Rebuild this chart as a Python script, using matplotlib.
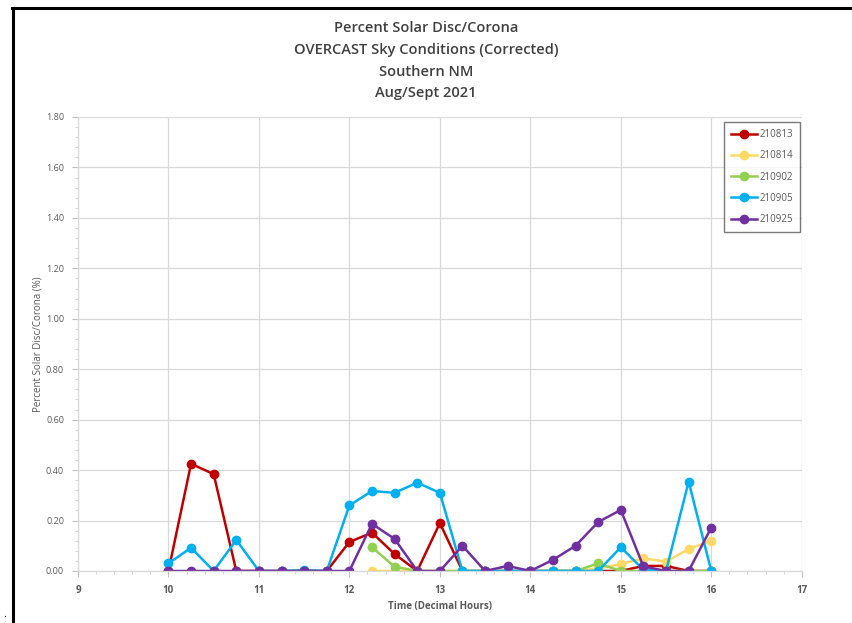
import matplotlib
matplotlib.use("Agg")
import matplotlib.pyplot as plt
from matplotlib.lines import Line2D
from matplotlib.ticker import MultipleLocator, FormatStrFormatter

# ---------------------------------------------------------------------------
# Measurements (decimal hours vs. percent of solar disc / corona)
# ---------------------------------------------------------------------------
hours_813 = [10.0, 10.25, 10.5, 10.75, 11.0, 11.25, 11.5, 11.75, 12.0, 12.25,
             12.5, 12.75, 13.0, 13.25, 13.5, 13.75, 14.0, 14.25, 14.5, 14.75,
             15.0, 15.25, 15.5, 15.75, 16.0]
pct_813 = [0.0, 0.425, 0.384, 0.0, 0.0, 0.0, 0.0, 0.0, 0.115, 0.152,
           0.067, 0.0, 0.19, 0.0, 0.0, 0.0, 0.0, 0.0, 0.0, 0.0,
           0.0, 0.02, 0.02, 0.0, 0.0]

hours_814 = [12.25, 12.5, 12.75, 13.0, 13.25, 13.5, 13.75, 14.0, 14.25, 14.5,
             14.75, 15.0, 15.25, 15.5, 15.75, 16.0]
pct_814 = [0.0, 0.0, 0.0, 0.0, 0.0, 0.0, 0.0, 0.0, 0.0, 0.0,
           0.01, 0.027, 0.05, 0.037, 0.087, 0.12]

hours_902 = [12.25, 12.5, 12.75, 13.0, 13.25, 13.5, 13.75, 14.0, 14.25, 14.5,
             14.75, 15.0, 15.25, 15.5, 15.75, 16.0]
pct_902 = [0.094, 0.017, 0.0, 0.0, 0.0, 0.0, 0.0, 0.0, 0.0, 0.0,
           0.03, 0.0, 0.0, 0.0, 0.0, 0.0]

hours_905 = [10.0, 10.25, 10.5, 10.75, 11.0, 11.25, 11.5, 11.75, 12.0, 12.25,
             12.5, 12.75, 13.0, 13.25, 13.5, 13.75, 14.0, 14.25, 14.5, 14.75,
             15.0, 15.25, 15.5, 15.75, 16.0]
pct_905 = [0.03, 0.092, 0.0, 0.123, 0.0, 0.0, 0.003, 0.0, 0.26, 0.317,
           0.31, 0.35, 0.31, 0.0, 0.0, 0.0, 0.0, 0.0, 0.0, 0.0,
           0.094, 0.005, 0.0, 0.354, 0.0]

hours_925 = [10.0, 10.25, 10.5, 10.75, 11.0, 11.25, 11.5, 11.75, 12.0, 12.25,
             12.5, 12.75, 13.0, 13.25, 13.5, 13.75, 14.0, 14.25, 14.5, 14.75,
             15.0, 15.25, 15.5, 15.75, 16.0]
pct_925 = [0.0, 0.0, 0.0, 0.0, 0.0, 0.0, 0.0, 0.0, 0.0, 0.187,
           0.127, 0.0, 0.0, 0.10, 0.0, 0.02, 0.0, 0.044, 0.10, 0.194,
           0.242, 0.018, 0.0, 0.0, 0.172]

series_labels = ["210813", "210814", "210902", "210905", "210925"]
series_colors = ["#C00000", "#FFD966", "#92D050", "#00B0F0", "#7030A0"]

title_lines = ["Percent Solar Disc/Corona",
               "OVERCAST Sky Conditions (Corrected)",
               "Southern NM",
               "Aug/Sept 2021"]

plt.rcParams["font.family"] = ["Open Sans", "DejaVu Sans"]

fig = plt.figure(figsize=(8.52, 6.23), dpi=100)
ax = fig.add_axes([0.0915, 0.0835, 0.8495, 0.7287])

data = [(hours_813, pct_813), (hours_814, pct_814), (hours_902, pct_902),
        (hours_905, pct_905), (hours_925, pct_925)]
for (xs, ys), lab, col in zip(data, series_labels, series_colors):
    ax.plot(xs, ys, color=col, linewidth=1.8, marker="o", markersize=6,
            label=lab)

ax.set_xlim(9, 17)
ax.set_ylim(0, 1.8)
ax.xaxis.set_major_locator(MultipleLocator(1))
ax.xaxis.set_minor_locator(MultipleLocator(0.2))
ax.yaxis.set_major_locator(MultipleLocator(0.2))
ax.yaxis.set_minor_locator(MultipleLocator(0.04))
ax.yaxis.set_major_formatter(FormatStrFormatter("%.2f"))
ax.grid(True, which="major", color="#d9d9d9", linewidth=0.9)
ax.set_axisbelow(True)

for side in ("top", "right"):
    ax.spines[side].set_visible(False)
for side in ("left", "bottom"):
    ax.spines[side].set_color("#d9d9d9")
    ax.spines[side].set_linewidth(0.9)

ax.tick_params(which="major", length=4, color="#bfbfbf", labelsize=6.5,
               labelcolor="#595959", pad=6)
ax.tick_params(which="minor", length=2.5, color="#d0d0d0")
for lbl in ax.get_xticklabels():
    lbl.set_fontweight("bold")
    lbl.set_fontsize(7)

ax.set_xlabel("Time (Decimal Hours)", fontsize=7, fontweight="bold",
              color="#595959", labelpad=4)
ax.set_ylabel("Percent Solar Disc/Corona (%)", fontsize=7, color="#595959",
              labelpad=2)

leg = ax.legend(loc="upper right", bbox_to_anchor=(1.005, 1.0), fontsize=7,
                frameon=True, fancybox=False, handlelength=2.6,
                labelspacing=1.05, borderpad=0.75, handletextpad=0.3)
leg.get_frame().set_edgecolor("#595959")
leg.get_frame().set_linewidth(1.0)
for t in leg.get_texts():
    t.set_color("#595959")

# Title block
for i, line in enumerate(title_lines):
    fig.text(0.5, 0.955 - i * 0.035, line, ha="center", va="center",
             fontsize=10.5, color="#404040", fontweight="semibold")

# Frame around the chart: left and top edges
fig.add_artist(Line2D([0.0153, 0.0153], [0.0, 0.9872], color="black",
                      linewidth=2.2, transform=fig.transFigure))
fig.add_artist(Line2D([0.0141, 1.0], [0.9872, 0.9872], color="black",
                      linewidth=2.2, transform=fig.transFigure))
fig.text(0.006, 0.01, ".", fontsize=8, color="black", ha="center")

fig.savefig("out.png", dpi=100)
